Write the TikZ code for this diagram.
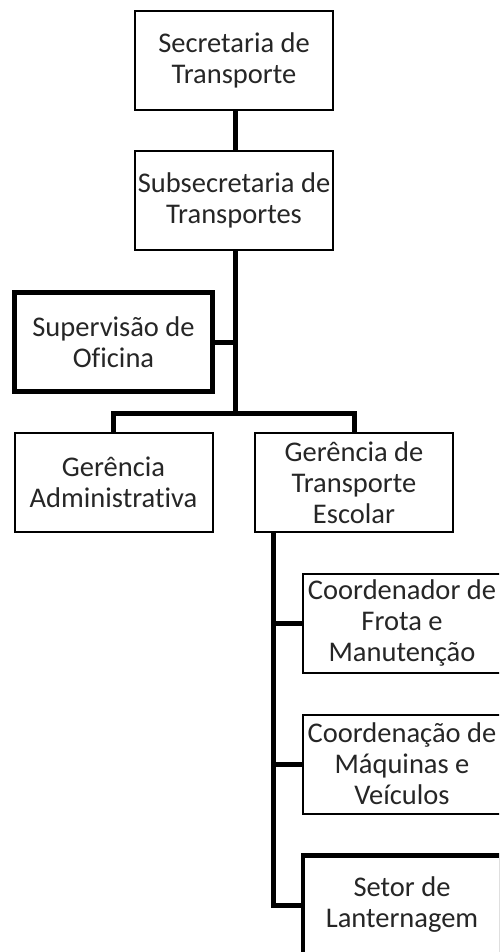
\documentclass[tikz,border=0pt]{standalone}
\usepackage{fontspec}
\setmainfont[Ligatures={NoCommon}]{Carlito}
\begin{document}
\begin{tikzpicture}[x=1pt,y=-1pt,
  box/.style={draw=black,line width=2pt,minimum width=198pt,minimum height=99pt,
    inner sep=0pt,align=center,font=\fontsize{28.5}{31}\selectfont,text=black!85},
  thickbox/.style={box,line width=4.5pt},
  conn/.style={draw=black,line width=5pt}]
\useasboundingbox (0,0) rectangle (499,952);
\clip (0,0) rectangle (499,952);
\fill[white] (0,0) rectangle (499,952);
\node[box] (b1) at (234,60.5) {Secretaria de\\Transporte};
\node[box] (b2) at (234,200.5) {Subsecretaria de\\Transportes};
\node[thickbox] (b3) at (113.5,342) {Supervisão de\\Oficina};
\node[box] (b4) at (113.5,482.5) {Gerência\\Administrativa};
\node[box] (b5) at (354,482.5) {Gerência de\\Transporte\\Escolar};
\node[box] (b6) at (402,623) {Coordenador de\\Frota e\\Manutenção};
\node[box] (b7) at (402,764) {Coordenação de\\Máquinas e\\Veículos};
\node[thickbox] (b8) at (402,905) {Setor de\\Lanternagem};
\coordinate (bar) at (235,413);
\coordinate (sp) at (273,532);
\draw[conn] (b1.south -| bar) -- (b2.north -| bar);
\draw[conn] (b2.south -| bar) -- (bar);
\draw[conn] (b3.east) -- (b3.east -| bar);
\draw[conn,line join=miter] (b4.north) |- (bar) -| (b5.north);
\draw[conn,line join=miter] (sp) |- (b8.west);
\draw[conn] (sp |- b6.west) -- (b6.west);
\draw[conn] (sp |- b7.west) -- (b7.west);
\end{tikzpicture}
\end{document}
